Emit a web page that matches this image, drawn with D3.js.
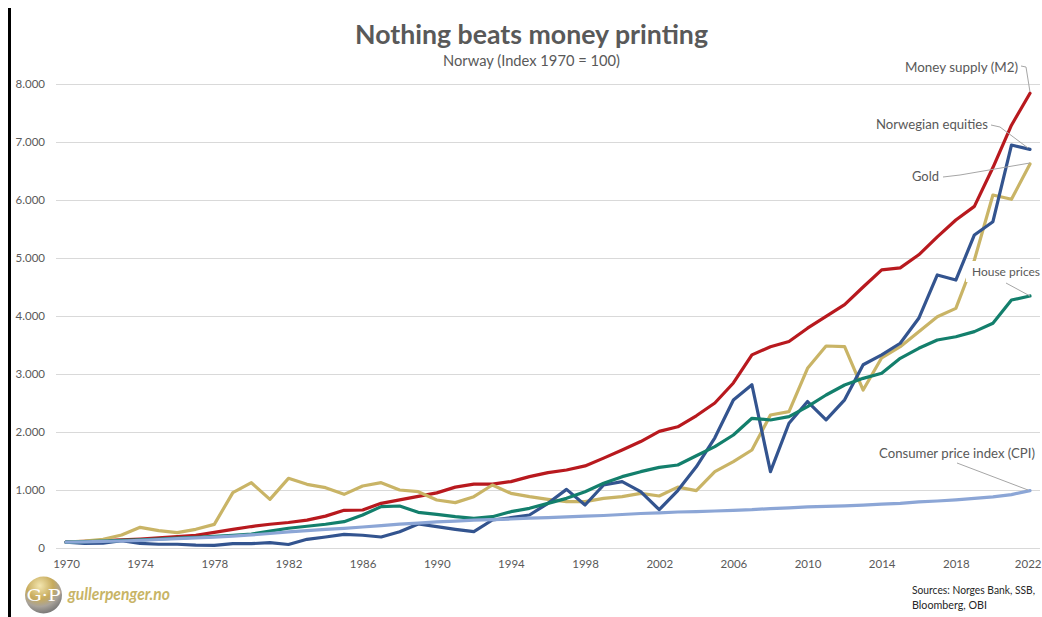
<!DOCTYPE html>
<html><head><meta charset="utf-8">
<script src="https://cdn.jsdelivr.net/npm/d3@7"></script>
<style>html,body{margin:0;padding:0;background:#fff;}svg{display:block;font-family:Lato,"Open Sans",sans-serif;}</style>
</head><body>
<script>
const years = d3.range(1970, 2023);
const yTicks = [0,1000,2000,3000,4000,5000,6000,7000,8000];
const xTicks = [1970,1974,1978,1982,1986,1990,1994,1998,2002,2006,2010,2014,2018,2022];

const moneySupply = [100,115,128,140,155,175,195,220,270,320,370,410,440,480,550,650,655,770,830,890,950,1050,1100,1100,1145,1230,1300,1345,1415,1550,1690,1835,2010,2090,2280,2500,2845,3330,3470,3560,3790,3995,4195,4500,4795,4830,5055,5365,5655,5890,6560,7290,7840];
const equities = [100,80,85,125,80,65,65,50,45,75,75,92,60,150,190,236,220,190,280,414,368,322,282,483,523,569,770,1011,741,1086,1144,971,660,990,1400,1900,2552,2815,1316,2150,2525,2210,2555,3160,3330,3530,3960,4707,4620,5397,5626,6948,6873];
const gold = [100,120,149,224,356,299,264,322,408,954,1126,839,1201,1098,1040,925,1069,1126,1000,971,828,782,885,1086,943,885,839,800,800,856,885,943,897,1050,990,1316,1488,1690,2293,2350,3098,3483,3471,2724,3280,3471,3730,3988,4132,4966,6086,6012,6620];
const housePrices = [100,110,120,130,140,155,170,185,200,220,240,290,340,375,410,454,569,713,724,615,580,540,511,540,626,684,770,856,971,1115,1230,1316,1391,1431,1590,1747,1948,2236,2207,2264,2437,2638,2810,2925,3012,3270,3443,3586,3643,3730,3874,4276,4345];
const cpi = [100,106,113,121,132,147,160,175,189,205,225,250,278,301,320,338,362,385,410,430,450,465,480,490,500,515,525,535,548,560,578,595,606,621,628,638,650,660,680,693,708,718,728,740,755,770,795,810,830,855,880,920,990];

const series = [
  {name:"Money supply (M2)", values: moneySupply, color:"#b8191e"},
  {name:"Gold", values: gold, color:"#c9b466"},
  {name:"Norwegian equities", values: equities, color:"#33548f"},
  {name:"House prices", values: housePrices, color:"#137f6c"},
  {name:"Consumer price index (CPI)", values: cpi, color:"#8ca6d6"}
];

const W = 1042, H = 617;
const svg = d3.select("body").append("svg").attr("width", W).attr("height", H);
svg.append("rect").attr("width", W).attr("height", H).attr("fill", "#fff");

const x = d3.scaleLinear().domain([1970, 2022]).range([66, 1030]);
const y = d3.scaleLinear().domain([0, 8000]).range([548, 84]);
const loc = d3.formatLocale({decimal: ",", thousands: ".", grouping: [3], currency: ["", ""]});
const fmt = loc.format(",d");

// gridlines + y axis
const yAxis = svg.append("g").attr("transform", "translate(56,0)")
  .call(d3.axisLeft(y).tickValues(yTicks).tickFormat(fmt).tickSize(-984).tickPadding(11));
yAxis.select(".domain").remove();
yAxis.selectAll(".tick line").attr("stroke", "#d9d9d9").attr("stroke-width", 1);
yAxis.selectAll(".tick text").attr("fill", "#595959").attr("font-size", 11.5).attr("font-family", "Lato");

// x axis
const xAxis = svg.append("g").attr("transform", "translate(0,548)")
  .call(d3.axisBottom(x).tickValues(xTicks).tickFormat(d3.format("d")).tickSize(0).tickPadding(12));
xAxis.select(".domain").remove();
xAxis.selectAll(".tick text").attr("fill", "#595959").attr("font-size", 11.5).attr("font-family", "Lato");
xAxis.selectAll(".tick").filter(d => d === 2022).select("text").attr("text-anchor", "end").attr("x", 11);

// lines
const line = d3.line().x((d, i) => x(years[i])).y(d => y(d));
svg.append("g").selectAll("path").data(series).join("path")
  .attr("d", d => line(d.values))
  .attr("fill", "none").attr("stroke", d => d.color)
  .attr("stroke-width", 3.2).attr("stroke-linejoin", "round").attr("stroke-linecap", "round");

// labels with leader lines
const lab = svg.append("g").attr("font-family", "Lato").attr("font-size", 12.5).attr("fill", "#595959");
function leader(pts){
  svg.append("path").attr("d", d3.line()(pts)).attr("fill","none").attr("stroke","#a6a6a6").attr("stroke-width",1);
}
// house prices white box (covers gold line)
svg.append("rect").attr("x", 966).attr("y", 261).attr("width", 80).attr("height", 21).attr("fill", "#fff");
leader([[1021,66],[1026,67],[1030,92]]);
leader([[991,125],[1000,127],[1028,148]]);
leader([[943,177],[960,175],[1030,163]]);
leader([[1006,283],[1030,296]]);
leader([[957,463],[1028,490]]);
lab.append("text").attr("x", 905).attr("y", 72).attr("textLength", 113).attr("lengthAdjust","spacingAndGlyphs").text("Money supply (M2)");
lab.append("text").attr("x", 876).attr("y", 129).attr("textLength", 112).attr("lengthAdjust","spacingAndGlyphs").text("Norwegian equities");
lab.append("text").attr("x", 912).attr("y", 181).attr("textLength", 27).attr("lengthAdjust","spacingAndGlyphs").text("Gold");
svg.append("text").attr("x", 972).attr("y", 276).attr("font-family","Lato").attr("font-size",12).attr("fill","#595959")
  .attr("textLength", 68).attr("lengthAdjust","spacingAndGlyphs").text("House prices");
lab.append("text").attr("x", 879).attr("y", 458).attr("textLength", 156).attr("lengthAdjust","spacingAndGlyphs").text("Consumer price index (CPI)");

// titles
svg.append("text").attr("x", 355).attr("y", 44).attr("font-family","Lato").attr("font-weight","bold")
  .attr("font-size", 26).attr("fill", "#595959").attr("textLength", 353).attr("lengthAdjust","spacingAndGlyphs")
  .text("Nothing beats money printing");
svg.append("text").attr("x", 443).attr("y", 66).attr("font-family","Lato")
  .attr("font-size", 14.5).attr("fill", "#595959").attr("textLength", 177).attr("lengthAdjust","spacingAndGlyphs")
  .text("Norway (Index 1970 = 100)");

// left border
svg.append("rect").attr("x", 8).attr("y", 8).attr("width", 3).attr("height", H - 8).attr("fill", "#000");

// logo
const defs = svg.append("defs");
const g = defs.append("radialGradient").attr("id","lg").attr("cx","40%").attr("cy","25%").attr("r","80%");
g.append("stop").attr("offset","0%").attr("stop-color","#f3e6b0");
g.append("stop").attr("offset","45%").attr("stop-color","#c7ab5c");
g.append("stop").attr("offset","70%").attr("stop-color","#a9a39a");
g.append("stop").attr("offset","100%").attr("stop-color","#6f6f6f");
svg.append("circle").attr("cx", 43.5).attr("cy", 595).attr("r", 18.5).attr("fill", "url(#lg)");
svg.append("text").attr("x", 43.5).attr("y", 601).attr("text-anchor","middle").attr("font-family","DejaVu Serif, serif")
  .attr("font-size", 16).attr("fill", "#fff").attr("textLength", 34).attr("lengthAdjust","spacingAndGlyphs").text("G·P");
svg.append("text").attr("x", 68).attr("y", 600).attr("font-family","Lato").attr("font-style","italic").attr("font-weight","bold")
  .attr("font-size", 17).attr("fill", "#c8b466").attr("textLength", 102).attr("lengthAdjust","spacingAndGlyphs").text("gullerpenger.no");

// sources
svg.append("text").attr("x", 912).attr("y", 594).attr("font-family","Lato").attr("font-size", 10.5)
  .attr("fill", "#262626").attr("textLength", 123).attr("lengthAdjust","spacingAndGlyphs").text("Sources: Norges Bank, SSB,");
svg.append("text").attr("x", 912).attr("y", 609).attr("font-family","Lato").attr("font-size", 10.5)
  .attr("fill", "#262626").attr("textLength", 75).attr("lengthAdjust","spacingAndGlyphs").text("Bloomberg, OBI");
</script>
</body></html>
